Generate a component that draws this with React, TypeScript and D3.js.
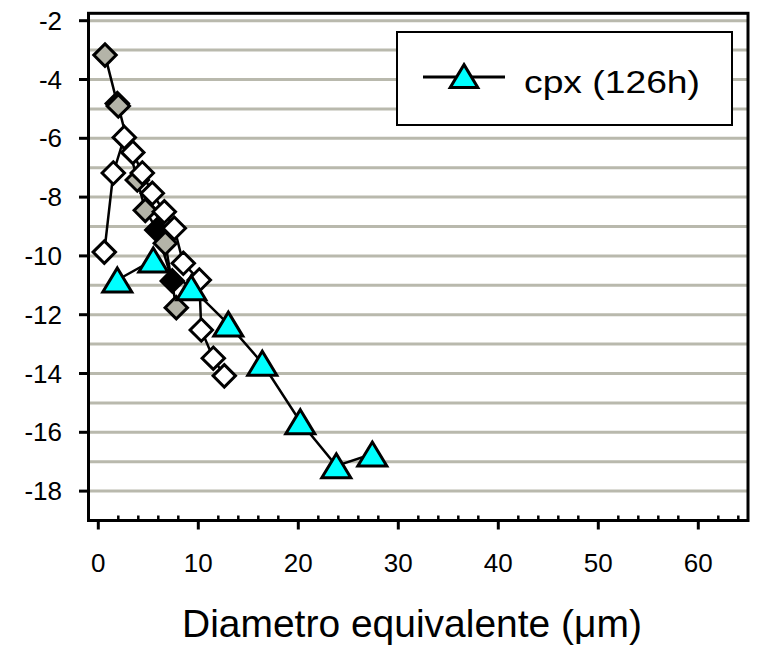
import React from "react";
import * as d3 from "d3";

const cpxX = [1.9, 5.5, 9.3, 13.0, 16.4, 20.2, 23.8, 27.4];
const cpxY = [-10.82, -10.14, -11.08, -12.32, -13.65, -15.64, -17.14, -16.74];

const grayX = [0.67, 1.9, 2.0, 3.9, 4.7, 6.7, 7.8];
const grayY = [-3.17, -4.82, -4.9, -7.42, -8.45, -9.57, -11.76];

const blackX = [5.85, 7.4];
const blackY = [-9.12, -10.85];

const whiteX = [0.6, 1.5, 2.6, 3.45, 4.4, 5.4, 6.6, 7.6, 8.5, 10.1, 10.3, 11.5, 12.6];
const whiteY = [-9.87, -7.18, -5.97, -6.48, -7.18, -7.87, -8.5, -9.06, -10.25, -10.82, -12.52, -13.48, -14.08];

const xMajorTicks = [0, 10, 20, 30, 40, 50, 60];
const xMinorTicks = d3.range(2, 65, 2).filter((v) => v % 10 !== 0);
const yTicks = [-2, -4, -6, -8, -10, -12, -14, -16, -18];
const yGrid = d3.range(-18, -1, 1);

const legendLabel = "cpx (126h)";
const xTitle = "Diametro equivalente (\u03bcm)";

const W = 764;
const H = 659;
const L = 88.5;
const R = 748;
const T = 13.3;
const B = 520.5;

const FONT = "'Liberation Sans', Arial, sans-serif";

export default function App() {
  const x = d3.scaleLinear().domain([-1, 65]).range([88.3, 748.3]);
  const y = d3.scaleLinear().domain([-19, -1.75]).range([520.5, 13.35]);

  const line = d3
    .line<[number, number]>()
    .x((d) => x(d[0]))
    .y((d) => y(d[1]));

  const zip = (xs: number[], ys: number[]) =>
    xs.map((v, i) => [v, ys[i]] as [number, number]);

  const diamond = (cx: number, cy: number, fill: string, key: string) => {
    const r = 11.2;
    return (
      <path
        key={key}
        d={`M${cx},${cy - r}L${cx + r},${cy}L${cx},${cy + r}L${cx - r},${cy}Z`}
        fill={fill}
        stroke="#000"
        strokeWidth={3}
      />
    );
  };

  const triangle = (cx: number, cy: number, key: string, s = 1) => (
    <path
      key={key}
      d={`M${cx},${cy - 12 * s}L${cx + 14.5 * s},${cy + 12 * s}L${cx - 14.5 * s},${cy + 12 * s}Z`}
      fill="#00ffff"
      stroke="#000"
      strokeWidth={3}
    />
  );

  const gray = zip(grayX, grayY);
  const black = zip(blackX, blackY);
  const white = zip(whiteX, whiteY);
  const cpx = zip(cpxX, cpxY);

  return (
    <svg
      width={W}
      height={H}
      style={{ position: "absolute", left: 0, top: 0, background: "#fff" }}
      fontFamily={FONT}
    >
      <rect x={0} y={0} width={W} height={H} fill="#fff" />
      {yGrid.map((v) => (
        <line
          key={"g" + v}
          x1={L}
          x2={R}
          y1={y(v)}
          y2={y(v)}
          stroke="#b9b9ad"
          strokeWidth={3}
        />
      ))}

      {/* black series */}
      <path d={line(black) || ""} fill="none" stroke="#000" strokeWidth={2.5} />
      {black.map((d, i) => diamond(x(d[0]), y(d[1]), "#000", "bk" + i))}

      {/* gray series */}
      <path d={line(gray) || ""} fill="none" stroke="#000" strokeWidth={2.5} />
      {gray.map((d, i) => diamond(x(d[0]), y(d[1]), "#b4b4a8", "gr" + i))}

      {/* white series */}
      <path d={line(white) || ""} fill="none" stroke="#000" strokeWidth={2.5} />
      {white.map((d, i) => diamond(x(d[0]), y(d[1]), "#fff", "wh" + i))}

      {/* cpx series */}
      <path d={line(cpx) || ""} fill="none" stroke="#000" strokeWidth={2.5} />
      {cpx.map((d, i) => triangle(x(d[0]), y(d[1]), "tr" + i))}

      <rect
        x={L}
        y={T}
        width={R - L}
        height={B - T}
        fill="none"
        stroke="#000"
        strokeWidth={3}
      />

      {yTicks.map((v) => (
        <g key={"yt" + v}>
          <line x1={79} x2={L} y1={y(v)} y2={y(v)} stroke="#000" strokeWidth={3} />
          <text x={62} y={y(v) + 9} textAnchor="end" fontSize={26} fill="#000">
            {v}
          </text>
        </g>
      ))}

      {xMajorTicks.map((v) => (
        <g key={"xt" + v}>
          <line x1={x(v)} x2={x(v)} y1={B} y2={B + 9} stroke="#000" strokeWidth={3} />
          <text x={x(v)} y={572} textAnchor="middle" fontSize={26} fill="#000">
            {v}
          </text>
        </g>
      ))}
      {xMinorTicks.map((v) => (
        <line
          key={"xm" + v}
          x1={x(v)}
          x2={x(v)}
          y1={B - 5}
          y2={B}
          stroke="#000"
          strokeWidth={2.5}
        />
      ))}

      <text
        x={182}
        y={637}
        fontSize={39}
        fill="#000"
        textLength={460}
        lengthAdjust="spacingAndGlyphs"
      >
        {xTitle}
      </text>

      <rect x={397} y={32} width={335} height={93} fill="#fff" stroke="#000" strokeWidth={2} />
      <line x1={423} x2={505} y1={77} y2={77} stroke="#000" strokeWidth={3} />
      {triangle(464, 76, "legtri", 0.95)}
      <text
        x={524}
        y={93}
        fontSize={31}
        fill="#000"
        textLength={176}
        lengthAdjust="spacingAndGlyphs"
      >
        {legendLabel}
      </text>
    </svg>
  );
}
